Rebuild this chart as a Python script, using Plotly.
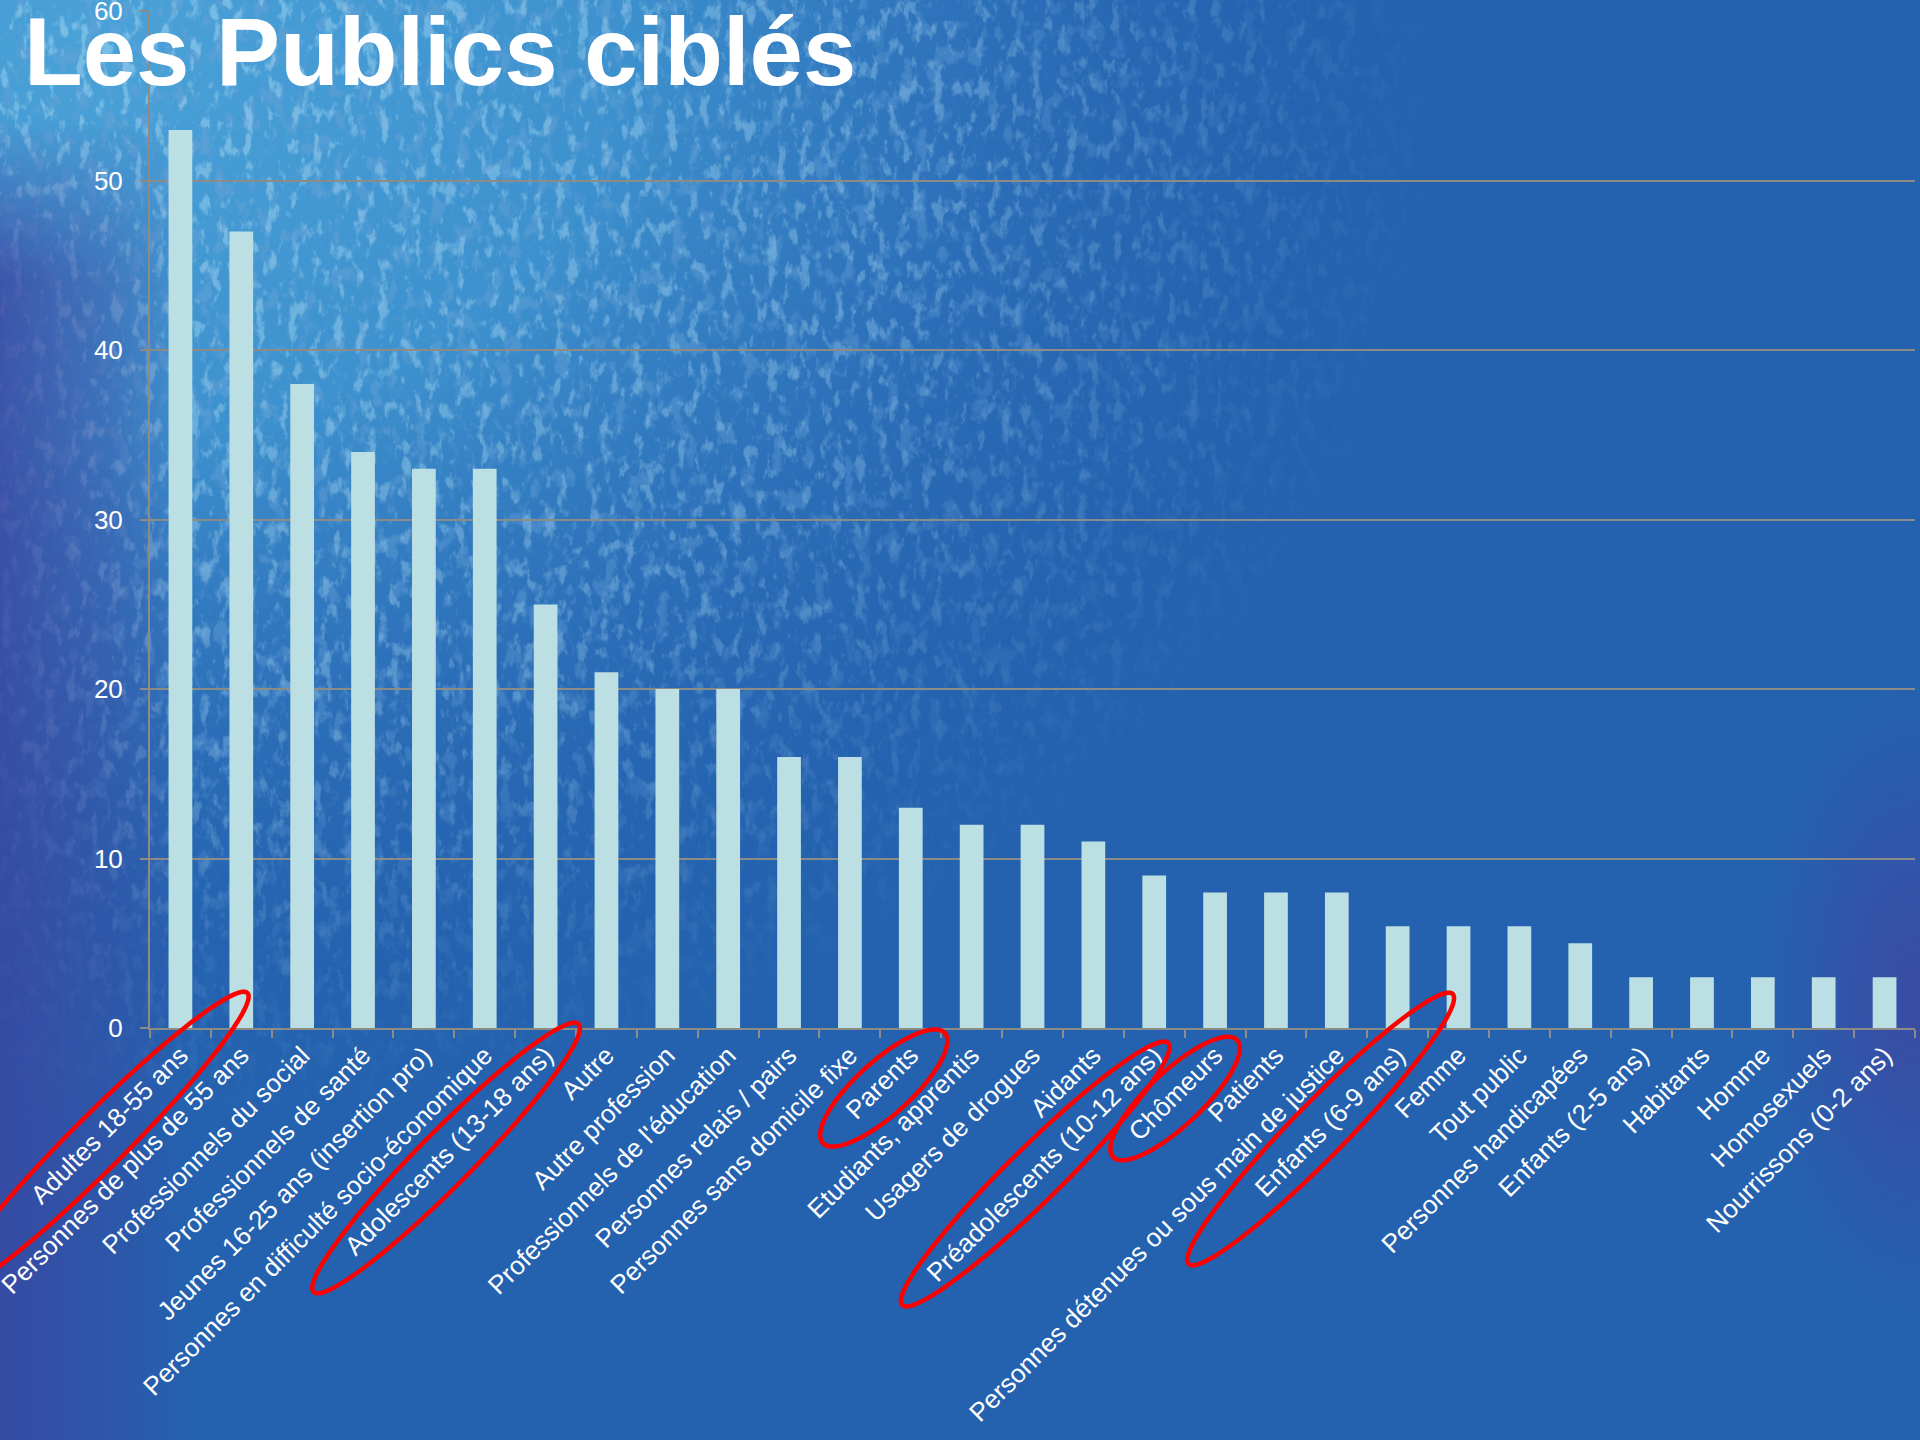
import base64
import numpy as np
import plotly.graph_objects as go

# ---- data -----------------------------------------------------------------
categories = [
    "Adultes 18-55 ans",
    "Personnes de plus de 55 ans",
    "Professionnels du social",
    "Professionnels de santé",
    "Jeunes 16-25 ans (insertion pro)",
    "Personnes en difficulté socio-économique",
    "Adolescents (13-18 ans)",
    "Autre",
    "Autre profession",
    "Professionnels de l'éducation",
    "Personnes relais / pairs",
    "Personnes sans domicile fixe",
    "Parents",
    "Etudiants, apprentis",
    "Usagers de drogues",
    "Aidants",
    "Préadolescents (10-12 ans)",
    "Chômeurs",
    "Patients",
    "Personnes détenues ou sous main de justice",
    "Enfants (6-9 ans)",
    "Femme",
    "Tout public",
    "Personnes handicapées",
    "Enfants (2-5 ans)",
    "Habitants",
    "Homme",
    "Homosexuels",
    "Nourrissons (0-2 ans)",
]
counts = [53, 47, 38, 34, 33, 33, 25, 21, 20, 20, 16, 16, 13, 12, 12, 11,
          9, 8, 8, 8, 6, 6, 6, 5, 3, 3, 3, 3, 3]

y_ticks = [0, 10, 20, 30, 40, 50, 60]

# Highlighted labels (hand-drawn red rings): label, upper tip and lower tip
# offsets in px from (category centre, x-axis baseline), half thickness in px
highlights = [
    ("Adultes 18-55 ans", (67, -35), (-230, 262), 27),
    ("Adolescents (13-18 ans)", (33, -4), (-232, 264), 27),
    ("Parents", (34, 5), (-88, 115), 27),
    ("Préadolescents (10-12 ans)", (14, 15), (-252, 277), 27),
    ("Chômeurs", (22, 12), (-102, 129), 27),
    ("Enfants (6-9 ans)", (55, -34), (-209, 236), 27),
]

# ---- page geometry ----------------------------------------------------------
W, H = 1920, 1440
ML, MR, MT, MB = 150, 5, 11, 412
PW, PH = W - ML - MR, H - MT - MB
N = len(categories)
BASE_Y = MT + PH
Y_MAX = 60.02


def to_paper(px, py):
    return (px - ML) / PW, (BASE_Y - py) / PH


# ---- textured slide background (SVG) ----------------------------------------
bg_svg = f"""<svg xmlns='http://www.w3.org/2000/svg' width='{W}' height='{H}' viewBox='0 0 {W} {H}'>
<defs>
 <radialGradient id='glow' cx='0' cy='0' r='1' gradientUnits='userSpaceOnUse'
   gradientTransform='translate(100 40) scale(1300 1000)'>
  <stop offset='0' stop-color='#4aa2d8'/>
  <stop offset='0.4' stop-color='#3d91ce'/>
  <stop offset='0.66' stop-color='#3178bf' stop-opacity='0.7'/>
  <stop offset='1' stop-color='#2462af' stop-opacity='0'/>
 </radialGradient>
 <linearGradient id='leftband' x1='0' y1='0' x2='1' y2='0'>
  <stop offset='0' stop-color='#3b45a0' stop-opacity='0.8'/>
  <stop offset='0.6' stop-color='#3b48a0' stop-opacity='0.4'/>
  <stop offset='1' stop-color='#3b48a0' stop-opacity='0'/>
 </linearGradient>
 <linearGradient id='leftfade' x1='0' y1='0' x2='0' y2='1'>
  <stop offset='0' stop-color='white' stop-opacity='0'/>
  <stop offset='0.12' stop-color='white' stop-opacity='1'/>
  <stop offset='1' stop-color='white' stop-opacity='1'/>
 </linearGradient>
 <mask id='leftmask'><rect x='0' y='120' width='190' height='1320' fill='url(#leftfade)'/></mask>
 <radialGradient id='haze' cx='0' cy='0' r='1' gradientUnits='userSpaceOnUse'
   gradientTransform='translate(1915 1000) scale(160 320)'>
  <stop offset='0' stop-color='#4a3c9c' stop-opacity='0.6'/>
  <stop offset='1' stop-color='#4a3c9c' stop-opacity='0'/>
 </radialGradient>
 <radialGradient id='texfade' cx='0' cy='0' r='1' gradientUnits='userSpaceOnUse'
   gradientTransform='translate(150 80) scale(1300 1050)'>
  <stop offset='0' stop-color='white' stop-opacity='1'/>
  <stop offset='0.6' stop-color='white' stop-opacity='0.7'/>
  <stop offset='1' stop-color='white' stop-opacity='0'/>
 </radialGradient>
 <mask id='texmask'><rect width='{W}' height='{H}' fill='url(#texfade)'/></mask>
 <filter id='light' x='0' y='0' width='100%' height='100%'>
  <feTurbulence type='fractalNoise' baseFrequency='0.09 0.05' numOctaves='4' seed='4'/>
  <feColorMatrix type='matrix' values='0 0 0 0 0.45  0 0 0 0 0.74  0 0 0 0 0.92  0 0 0 6 -3.3'/>
 </filter>
 <filter id='dark' x='0' y='0' width='100%' height='100%'>
  <feTurbulence type='fractalNoise' baseFrequency='0.07 0.045' numOctaves='4' seed='11'/>
  <feColorMatrix type='matrix' values='0 0 0 0 0.14  0 0 0 0 0.36  0 0 0 0 0.68  0 0 0 6 -3.2'/>
 </filter>
</defs>
<rect width='{W}' height='{H}' fill='#2462af'/>
<rect width='{W}' height='{H}' fill='url(#glow)'/>
<g mask='url(#texmask)'>
 <rect width='{W}' height='{H}' filter='url(#dark)' opacity='0.55'/>
 <rect width='{W}' height='{H}' filter='url(#light)' opacity='0.45'/>
</g>
<rect x='0' y='0' width='190' height='{H}' fill='url(#leftband)' mask='url(#leftmask)'/>
<rect width='{W}' height='{H}' fill='url(#haze)'/>
</svg>"""
bg_uri = "data:image/svg+xml;base64," + base64.b64encode(bg_svg.encode()).decode()

# ---- figure -----------------------------------------------------------------
fig = go.Figure(
    go.Bar(
        x=categories,
        y=counts,
        marker=dict(color="#bbdfe2", line=dict(width=0)),
        width=0.39,
        hoverinfo="x+y",
    )
)

grid = "#8c8b86"
fig.update_layout(
    width=W,
    height=H,
    margin=dict(l=ML, r=MR, t=MT, b=MB, autoexpand=False),
    paper_bgcolor="#2462af",
    plot_bgcolor="rgba(0,0,0,0)",
    showlegend=False,
    font=dict(family="Liberation Sans, Arial, sans-serif", color="white"),
    xaxis=dict(
        type="category",
        range=[-0.5, N - 0.5],
        tickangle=-45,
        tickfont=dict(size=26, color="white"),
        ticks="outside",
        tickson="boundaries",
        ticklen=8,
        tickwidth=2,
        tickcolor=grid,
        showline=True,
        linecolor=grid,
        linewidth=2,
        showgrid=False,
    ),
    yaxis=dict(
        range=[0, Y_MAX],
        tickvals=y_ticks,
        tickfont=dict(size=26, color="white"),
        ticklabeloverflow="allow",
        ticks="outside",
        ticklen=8,
        tickwidth=2,
        tickcolor=grid,
        ticklabelstandoff=12,
        showline=True,
        linecolor=grid,
        linewidth=2,
        showgrid=True,
        gridcolor=grid,
        gridwidth=2,
        zeroline=False,
    ),
    images=[dict(
        source=bg_uri,
        xref="paper", yref="paper",
        x=-ML / PW, y=1 + MT / PH,
        sizex=W / PW, sizey=H / PH,
        sizing="stretch",
        xanchor="left", yanchor="top",
        layer="below",
    )],
    title=dict(
        text="<b>Les Publics ciblés</b>",
        font=dict(family="Liberation Sans, Arial, sans-serif", size=96, color="white"),
        x=24 / W, xanchor="left", xref="container",
        y=1 - 51 / H, yanchor="middle", yref="container",
    ),
)

# ---- red rings round the highlighted labels ---------------------------------
cat_w = PW / N
t = np.linspace(0, 2 * np.pi, 120)
shapes = []
for label, (tx, ty), (bx, by), half in highlights:
    i = categories.index(label)
    cx = ML + (i + 0.5) * cat_w
    p1 = np.array([cx + tx, BASE_Y + ty])
    p2 = np.array([cx + bx, BASE_Y + by])
    centre = (p1 + p2) / 2
    axis = (p1 - p2) / 2
    a = np.hypot(*axis)
    u = axis / a
    v = np.array([-u[1], u[0]])
    pts = [centre + a * np.cos(k) * u + half * np.sin(k) * v for k in t]
    path = "M " + " L ".join(
        "{:.5f},{:.5f}".format(*to_paper(px, py)) for px, py in pts
    ) + " Z"
    shapes.append(dict(
        type="path", path=path, xref="paper", yref="paper",
        line=dict(color="#ff0000", width=4.5), fillcolor="rgba(0,0,0,0)",
        layer="above",
    ))
fig.update_layout(shapes=shapes)

fig.write_html("out.html", include_plotlyjs=True, full_html=True,
               config={"displayModeBar": False})
